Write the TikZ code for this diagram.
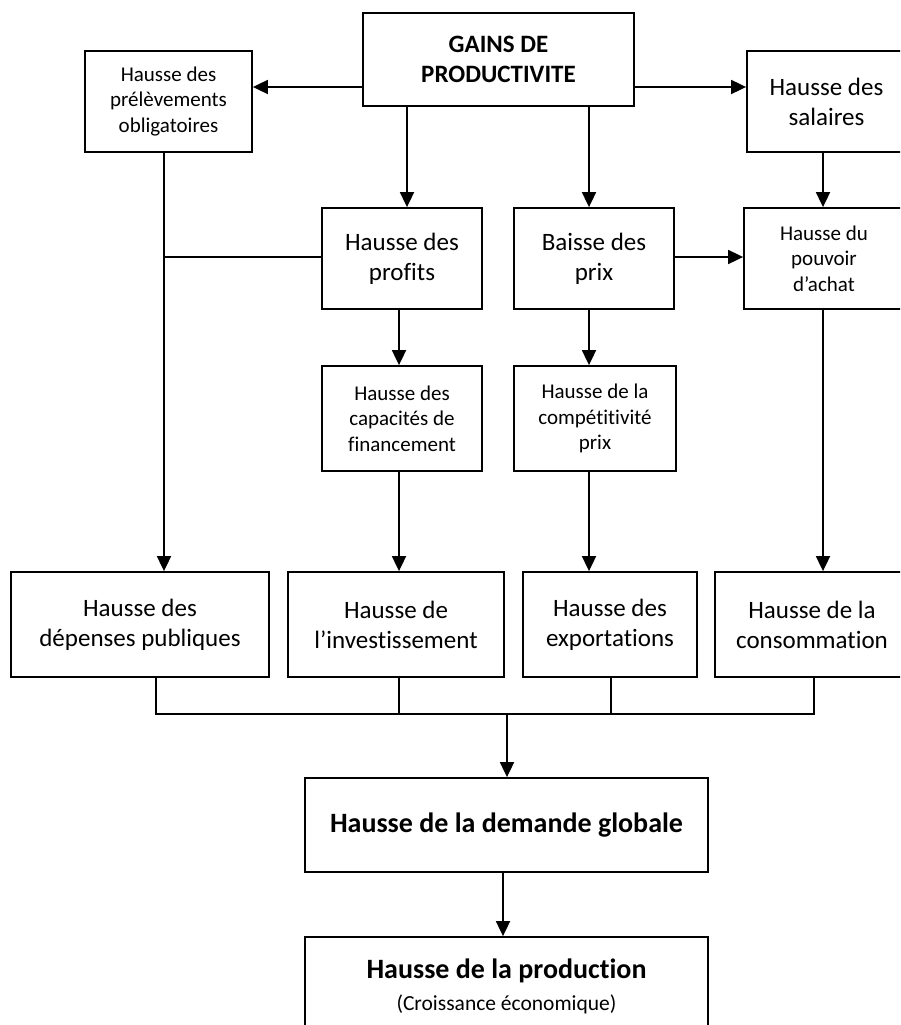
\documentclass[tikz,border=0pt]{standalone}
\usepackage{fontspec}
\setmainfont{Carlito}[Ligatures=NoCommon]
\usetikzlibrary{arrows.meta}
\tikzset{
  box/.style={draw, line width=1.8pt, inner sep=0pt, align=center},
  ln/.style={line width=1.8pt},
  arr/.style={line width=1.8pt, -{Triangle[length=15pt,width=14pt]}},
  sm/.style={font=\fontsize{21}{25.5}\selectfont},
  lg/.style={font=\fontsize{25}{30}\selectfont},
  gb/.style={font=\bfseries\fontsize{25}{30}\selectfont},
  db/.style={font=\bfseries\fontsize{28}{32}\selectfont},
  pb/.style={font=\fontsize{28}{32}\selectfont}
}
\newcommand{\bx}[7]{\node[box,#7,minimum width={(#4-#2)*1pt},minimum height={(#5-#3)*1pt}] (#1) at ({(#2+#4)/2},{(#3+#5)/2}) {#6};}
\begin{document}
\begin{tikzpicture}[x=1pt,y=-1pt]
\useasboundingbox (0,0) rectangle (900,1025);
\clip (0,0) rectangle (900,1025);
\bx{gains}{363}{13}{634}{106}{GAINS DE\\PRODUCTIVITE}{gb}
\bx{prel}{85}{51}{252}{152}{Hausse des\\prélèvements\\obligatoires}{sm}
\bx{sal}{747}{51}{906}{152}{Hausse des\\salaires}{lg}
\bx{prof}{322}{208}{482}{309}{Hausse des\\profits}{lg}
\bx{baisse}{514}{208}{674}{309}{Baisse des\\prix}{lg}
\bx{pouv}{744}{208}{904}{309}{Hausse du\\pouvoir\\d’achat}{sm}
\bx{cap}{322}{366}{482}{471}{Hausse des\\capacités de\\financement}{sm}
\bx{comp}{514}{366}{676}{471}{Hausse de la\\compétitivité\\prix}{sm}
\bx{dep}{11}{572}{269}{677}{Hausse des\\dépenses publiques}{lg}
\bx{inv}{288}{572}{504}{677}{Hausse de\\l’investissement}{lg}
\bx{exp}{523}{572}{697}{677}{Hausse des\\exportations}{lg}
\bx{cons}{715}{572}{909}{677}{Hausse de la\\consommation}{lg}
\bx{dem}{305}{778}{708}{872}{Hausse de la demande globale}{db}
\bx{prod}{305}{937}{708}{1036}{{\bfseries Hausse de la production}\\{\fontsize{21.5}{26}\selectfont (Croissance économique)}}{pb}
% top connectors
\draw[arr] (gains.west |- 0,87) -- (prel.east |- 0,87);
\draw[arr] (gains.east |- 0,87) -- (sal.west |- 0,87);
\draw[arr] (gains.south -| 407,0) -- (prof.north -| 407,0);
\draw[arr] (gains.south -| 589,0) -- (baisse.north -| 589,0);
\draw[arr] (sal.south -| 823,0) -- (pouv.north -| 823,0);
\draw[arr] (baisse.east |- 0,257) -- (pouv.west |- 0,257);
\coordinate (j1) at (164,257);
\draw[ln] (prof.west |- j1) -- (j1);
\draw[arr] (prel.south -| j1) -- (dep.north -| j1);
\draw[arr] (prof.south -| 399,0) -- (cap.north -| 399,0);
\draw[arr] (cap.south -| 399,0) -- (inv.north -| 399,0);
\draw[arr] (baisse.south -| 589,0) -- (comp.north -| 589,0);
\draw[arr] (comp.south -| 589,0) -- (exp.north -| 589,0);
\draw[arr] (pouv.south -| 823,0) -- (cons.north -| 823,0);
% bus
\coordinate (bL) at (156,714);
\coordinate (bI) at (399,714);
\coordinate (bM) at (507,714);
\coordinate (bE) at (611,714);
\coordinate (bC) at (814,714);
\draw[ln] (dep.south -| bL) -- (bL) -- (bC) -- (cons.south -| bC);
\draw[ln] (inv.south -| bI) -- (bI);
\draw[ln] (exp.south -| bE) -- (bE);
\draw[arr] (bM) -- (dem.north -| bM);
\draw[arr] (dem.south -| 503,0) -- (prod.north -| 503,0);
\end{tikzpicture}
\end{document}
